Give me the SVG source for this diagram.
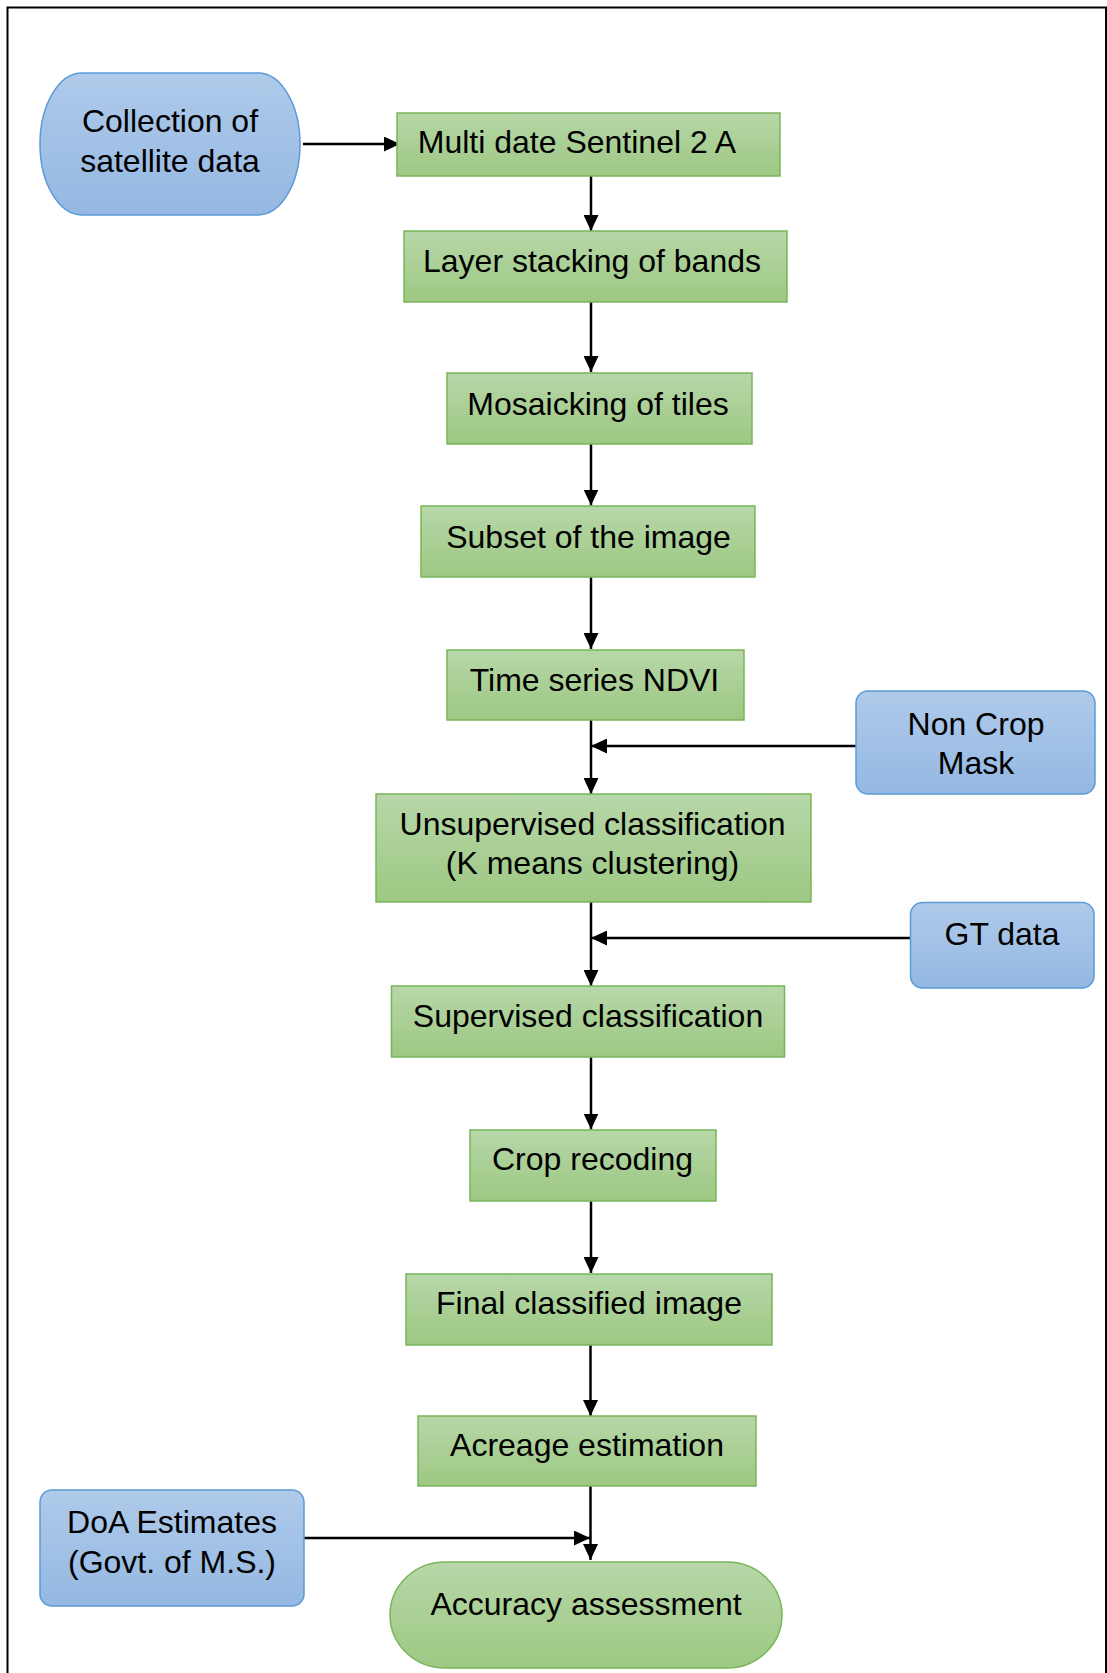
<svg xmlns="http://www.w3.org/2000/svg" width="1107" height="1673" viewBox="0 0 1107 1673">
<defs>
<linearGradient id="gGreen" x1="0" y1="0" x2="0" y2="1">
<stop offset="0" stop-color="#b7d7a8"/>
<stop offset="1" stop-color="#9dc883"/>
</linearGradient>
<linearGradient id="gBlue" x1="0" y1="0" x2="0" y2="1">
<stop offset="0" stop-color="#afcaea"/>
<stop offset="1" stop-color="#94b8e2"/>
</linearGradient>
<marker id="arr" markerUnits="userSpaceOnUse" markerWidth="16" markerHeight="15" refX="16" refY="7.5" orient="auto">
<path d="M0,0 L16,7.5 L0,15 z" fill="#000"/>
</marker>
<style>
.g{fill:url(#gGreen);stroke:#7ab55a;stroke-width:1.5}
.b{fill:url(#gBlue);stroke:#5b9bd5;stroke-width:1.5}
.t{font-family:"Liberation Sans",Arial,sans-serif;font-size:32px;fill:#000;text-anchor:middle}
.c{fill:none;stroke:#000;stroke-width:2.5;marker-end:url(#arr)}
</style>
</defs>
<rect x="7.5" y="7.5" width="1098.5" height="1700" fill="#fff" stroke="#000" stroke-width="2"/>

<g id="connectors">
<path class="c" d="M303,144 H400"/>
<path class="c" d="M591,176 V231"/>
<path class="c" d="M591,302 V372"/>
<path class="c" d="M591,444 V505.5"/>
<path class="c" d="M591,577 V649"/>
<path class="c" d="M591,720 V794"/>
<path class="c" d="M856,746 H591"/>
<path class="c" d="M591,902 V986"/>
<path class="c" d="M910,938 H591"/>
<path class="c" d="M591,1057 V1129.5"/>
<path class="c" d="M591,1201 V1273"/>
<path class="c" d="M590.5,1345 V1416"/>
<path class="c" d="M590.5,1486 V1560"/>
<path class="c" d="M304,1538 H590"/>
</g>

<g id="collection">
<rect class="b" x="40" y="73" width="260" height="142" rx="42" ry="71"/>
<text class="t" x="170" y="132">Collection of</text>
<text class="t" x="170" y="172">satellite data</text>
</g>
<g id="multi-date">
<rect class="g" x="397" y="113" width="383" height="63"/>
<text class="t" x="577" y="153">Multi date Sentinel 2 A</text>
</g>
<g id="layer-stacking">
<rect class="g" x="404" y="231" width="383" height="71"/>
<text class="t" x="592" y="272">Layer stacking of bands</text>
</g>
<g id="mosaicking">
<rect class="g" x="447" y="373" width="305" height="71"/>
<text class="t" x="598" y="415">Mosaicking of tiles</text>
</g>
<g id="subset">
<rect class="g" x="421" y="506" width="334" height="71"/>
<text class="t" x="588.5" y="548">Subset of the image</text>
</g>
<g id="ndvi">
<rect class="g" x="447" y="650" width="297" height="70"/>
<text class="t" x="594.5" y="691">Time series NDVI</text>
</g>
<g id="non-crop-mask">
<rect class="b" x="856" y="691" width="239" height="103" rx="12" ry="12"/>
<text class="t" x="976" y="735">Non Crop</text>
<text class="t" x="976" y="774">Mask</text>
</g>
<g id="unsupervised">
<rect class="g" x="376" y="794" width="435" height="108"/>
<text class="t" x="592.5" y="835">Unsupervised classification</text>
<text class="t" x="592.5" y="874">(K means clustering)</text>
</g>
<g id="gt-data">
<rect class="b" x="910.5" y="902.5" width="183.5" height="85.5" rx="12" ry="12"/>
<text class="t" x="1002" y="945">GT data</text>
</g>
<g id="supervised">
<rect class="g" x="391.5" y="986" width="393" height="71"/>
<text class="t" x="588" y="1027">Supervised classification</text>
</g>
<g id="crop-recoding">
<rect class="g" x="470" y="1130" width="246" height="71"/>
<text class="t" x="592.5" y="1170">Crop recoding</text>
</g>
<g id="final-image">
<rect class="g" x="406" y="1274" width="366" height="71"/>
<text class="t" x="589" y="1314">Final classified image</text>
</g>
<g id="acreage">
<rect class="g" x="418" y="1416" width="338" height="70"/>
<text class="t" x="587" y="1456">Acreage estimation</text>
</g>
<g id="doa">
<rect class="b" x="40" y="1490" width="264" height="116" rx="12" ry="12"/>
<text class="t" x="172" y="1533">DoA Estimates</text>
<text class="t" x="172" y="1573">(Govt. of M.S.)</text>
</g>
<g id="accuracy">
<rect class="g" x="390" y="1562" width="392" height="106" rx="55" ry="53"/>
<text class="t" x="586" y="1615">Accuracy assessment</text>
</g>
</svg>
